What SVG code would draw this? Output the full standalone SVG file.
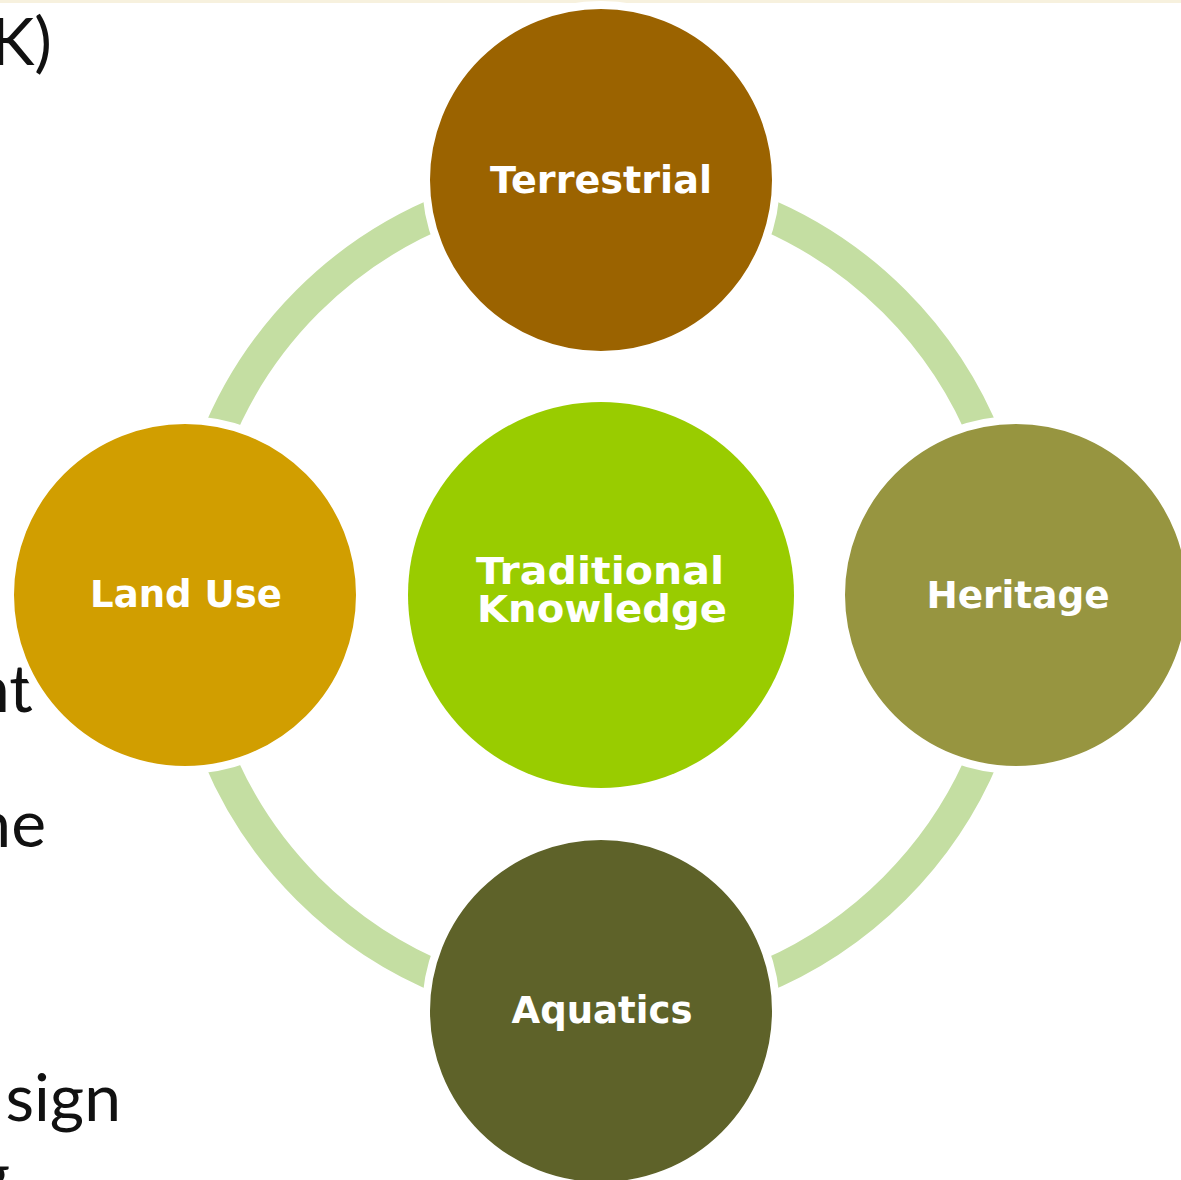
<svg xmlns="http://www.w3.org/2000/svg" width="1181" height="1180" viewBox="0 0 1181 1180">
  <style>
    .node { stroke: #ffffff; stroke-width: 8; }
    .label { font-family: "DejaVu Sans", Verdana, sans-serif; font-weight: bold; font-size: 37px; fill: #ffffff; text-anchor: middle; }
    .side { font-family: Lato, "Open Sans", sans-serif; font-size: 66px; fill: #111111; text-anchor: end; }
  </style>
  <rect x="0" y="0" width="1181" height="1180" fill="#ffffff"/>
  <rect x="0" y="0" width="1181" height="3" fill="#f7f1de"/>

  <g id="side-text">
    <text class="side" x="52" y="65">K)</text>
    <text class="side" x="33" y="712">nt</text>
    <text class="side" x="46" y="847">ne</text>
    <text class="side" x="121" y="1121">sign</text>
    <text class="side" x="10" y="1198">g</text>
  </g>

  <g id="connectors">
    <circle cx="601" cy="595" r="415" fill="none" stroke="#c4dea2" stroke-width="32"/>
  </g>

  <g id="node-terrestrial">
    <circle class="node" cx="601" cy="180" r="175" fill="#9b6300"/>
    <text class="label" x="601" y="193" textLength="222" lengthAdjust="spacingAndGlyphs">Terrestrial</text>
  </g>
  <g id="node-landuse">
    <circle class="node" cx="185" cy="595" r="175" fill="#d19e00"/>
    <text class="label" x="186" y="607" textLength="192" lengthAdjust="spacingAndGlyphs">Land Use</text>
  </g>
  <g id="node-heritage">
    <circle class="node" cx="1016" cy="595" r="175" fill="#979540"/>
    <text class="label" x="1018" y="608" textLength="183" lengthAdjust="spacingAndGlyphs">Heritage</text>
  </g>
  <g id="node-aquatics">
    <circle class="node" cx="601" cy="1011" r="175" fill="#5e6229"/>
    <text class="label" x="602" y="1023" textLength="181" lengthAdjust="spacingAndGlyphs">Aquatics</text>
  </g>
  <g id="node-tk">
    <circle cx="601" cy="595" r="193" fill="#99cc00"/>
    <text class="label" x="600" y="584" textLength="248" lengthAdjust="spacingAndGlyphs">Traditional</text>
    <text class="label" x="602" y="622" textLength="250" lengthAdjust="spacingAndGlyphs">Knowledge</text>
  </g>
</svg>
